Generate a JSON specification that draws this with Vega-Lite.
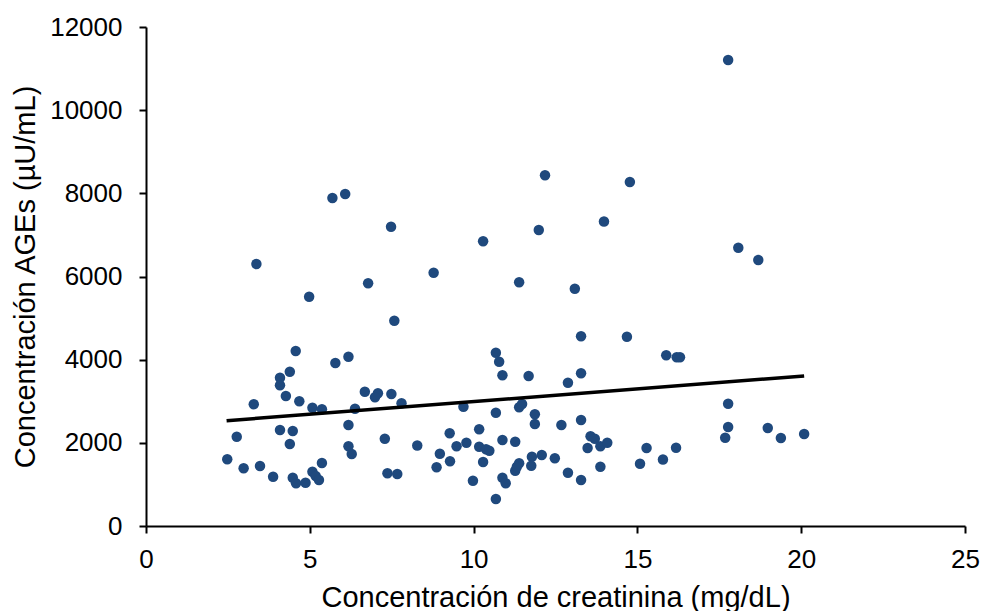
{
  "$schema": "https://vega.github.io/schema/vega-lite/v6.json",
  "width": 819,
  "height": 499,
  "autosize": {"type": "none"},
  "padding": {"left": 146, "top": 27, "right": 17, "bottom": 85},
  "background": "white",
  "config": {
    "view": {"stroke": null},
    "font": "Liberation Sans",
    "axis": {
      "grid": false,
      "domainColor": "black",
      "domainWidth": 2,
      "tickColor": "black",
      "tickWidth": 2,
      "tickSize": 7,
      "labelFont": "Liberation Sans",
      "labelFontSize": 26,
      "labelColor": "black",
      "titleFont": "Liberation Sans",
      "titleFontSize": 29,
      "titleFontWeight": "normal",
      "titleColor": "black"
    }
  },
  "datasets": {
    "muestras": [
      {"creatinina": 4.57, "ages": 4210}, {"creatinina": 6.18, "ages": 4072}, {"creatinina": 5.78, "ages": 3920},
      {"creatinina": 4.39, "ages": 3711}, {"creatinina": 4.09, "ages": 3567}, {"creatinina": 4.09, "ages": 3384},
      {"creatinina": 6.68, "ages": 3230}, {"creatinina": 7.08, "ages": 3191}, {"creatinina": 6.99, "ages": 3095},
      {"creatinina": 7.49, "ages": 3175}, {"creatinina": 4.27, "ages": 3127}, {"creatinina": 3.29, "ages": 2927},
      {"creatinina": 4.68, "ages": 2999}, {"creatinina": 5.08, "ages": 2845}, {"creatinina": 5.37, "ages": 2807},
      {"creatinina": 6.38, "ages": 2821}, {"creatinina": 7.80, "ages": 2951}, {"creatinina": 6.18, "ages": 2429},
      {"creatinina": 4.09, "ages": 2309}, {"creatinina": 4.48, "ages": 2285}, {"creatinina": 2.77, "ages": 2148},
      {"creatinina": 7.29, "ages": 2100}, {"creatinina": 4.39, "ages": 1972}, {"creatinina": 6.18, "ages": 1917},
      {"creatinina": 6.28, "ages": 1732}, {"creatinina": 8.28, "ages": 1936}, {"creatinina": 2.48, "ages": 1604},
      {"creatinina": 2.98, "ages": 1388}, {"creatinina": 3.48, "ages": 1443}, {"creatinina": 3.88, "ages": 1186},
      {"creatinina": 4.48, "ages": 1162}, {"creatinina": 4.58, "ages": 1027}, {"creatinina": 4.87, "ages": 1041},
      {"creatinina": 5.08, "ages": 1306}, {"creatinina": 5.18, "ages": 1203}, {"creatinina": 5.28, "ages": 1106},
      {"creatinina": 5.37, "ages": 1515}, {"creatinina": 7.37, "ages": 1267}, {"creatinina": 7.67, "ages": 1251},
      {"creatinina": 5.69, "ages": 7888}, {"creatinina": 6.08, "ages": 7985}, {"creatinina": 7.48, "ages": 7198},
      {"creatinina": 3.37, "ages": 6301}, {"creatinina": 6.78, "ages": 5837}, {"creatinina": 4.98, "ages": 5515},
      {"creatinina": 7.58, "ages": 4937}, {"creatinina": 12.18, "ages": 8434}, {"creatinina": 14.77, "ages": 8273},
      {"creatinina": 13.98, "ages": 7323}, {"creatinina": 11.99, "ages": 7119}, {"creatinina": 10.29, "ages": 6847},
      {"creatinina": 8.78, "ages": 6092}, {"creatinina": 11.39, "ages": 5861}, {"creatinina": 13.09, "ages": 5707},
      {"creatinina": 13.28, "ages": 4565}, {"creatinina": 14.68, "ages": 4550}, {"creatinina": 10.68, "ages": 4168},
      {"creatinina": 10.78, "ages": 3951}, {"creatinina": 10.88, "ages": 3624}, {"creatinina": 11.68, "ages": 3608},
      {"creatinina": 12.88, "ages": 3446}, {"creatinina": 13.28, "ages": 3672}, {"creatinina": 15.88, "ages": 4105},
      {"creatinina": 16.20, "ages": 4057}, {"creatinina": 16.30, "ages": 4057}, {"creatinina": 9.69, "ages": 2869},
      {"creatinina": 10.68, "ages": 2725}, {"creatinina": 11.39, "ages": 2855}, {"creatinina": 11.48, "ages": 2934},
      {"creatinina": 11.87, "ages": 2686}, {"creatinina": 11.87, "ages": 2453}, {"creatinina": 12.68, "ages": 2429},
      {"creatinina": 13.28, "ages": 2549}, {"creatinina": 9.27, "ages": 2229}, {"creatinina": 10.17, "ages": 2326},
      {"creatinina": 9.48, "ages": 1917}, {"creatinina": 9.78, "ages": 2003}, {"creatinina": 10.17, "ages": 1907},
      {"creatinina": 10.38, "ages": 1845}, {"creatinina": 10.48, "ages": 1811}, {"creatinina": 10.88, "ages": 2068},
      {"creatinina": 11.27, "ages": 2027}, {"creatinina": 8.97, "ages": 1739}, {"creatinina": 8.87, "ages": 1412},
      {"creatinina": 9.28, "ages": 1556}, {"creatinina": 10.29, "ages": 1539}, {"creatinina": 9.98, "ages": 1089},
      {"creatinina": 10.88, "ages": 1162}, {"creatinina": 10.98, "ages": 1027}, {"creatinina": 10.68, "ages": 649},
      {"creatinina": 11.39, "ages": 1508}, {"creatinina": 11.27, "ages": 1330}, {"creatinina": 11.32, "ages": 1426},
      {"creatinina": 11.78, "ages": 1667}, {"creatinina": 12.08, "ages": 1708}, {"creatinina": 11.76, "ages": 1450},
      {"creatinina": 12.48, "ages": 1628}, {"creatinina": 12.88, "ages": 1282}, {"creatinina": 13.28, "ages": 1106},
      {"creatinina": 13.57, "ages": 2157}, {"creatinina": 13.70, "ages": 2100}, {"creatinina": 13.48, "ages": 1876},
      {"creatinina": 13.87, "ages": 1917}, {"creatinina": 14.08, "ages": 2003}, {"creatinina": 13.87, "ages": 1426},
      {"creatinina": 15.08, "ages": 1498}, {"creatinina": 15.28, "ages": 1876}, {"creatinina": 15.78, "ages": 1599},
      {"creatinina": 16.18, "ages": 1883}, {"creatinina": 17.77, "ages": 2941}, {"creatinina": 17.77, "ages": 2381},
      {"creatinina": 17.68, "ages": 2124}, {"creatinina": 18.98, "ages": 2357}, {"creatinina": 19.38, "ages": 2116},
      {"creatinina": 20.09, "ages": 2213}, {"creatinina": 17.77, "ages": 11207}, {"creatinina": 18.08, "ages": 6693},
      {"creatinina": 18.69, "ages": 6397}
    ],
    "tendencia": [
      {"creatinina": 2.46, "ages": 2532},
      {"creatinina": 20.09, "ages": 3607}
    ]
  },
  "layer": [
    {
      "data": {"name": "muestras"},
      "mark": {"type": "circle", "size": 110, "color": "#1F497D", "opacity": 1},
      "encoding": {
        "x": {
          "field": "creatinina",
          "type": "quantitative",
          "scale": {"domain": [0, 25], "nice": false, "zero": false},
          "axis": {
            "title": "Concentración de creatinina (mg/dL)",
            "values": [0, 5, 10, 15, 20, 25],
            "labelPadding": 13,
            "labelFlush": false,
            "titleBaseline": "alphabetic",
            "titleY": 80
          }
        },
        "y": {
          "field": "ages",
          "type": "quantitative",
          "scale": {"domain": [0, 12000], "nice": false},
          "axis": {
            "title": "Concentración AGEs (µU/mL)",
            "values": [0, 2000, 4000, 6000, 8000, 10000, 12000],
            "format": "d",
            "labelPadding": 17,
            "labelFlush": false,
            "titleBaseline": "alphabetic",
            "titleX": -112
          }
        }
      }
    },
    {
      "data": {"name": "tendencia"},
      "mark": {"type": "line", "color": "black", "strokeWidth": 3.5},
      "encoding": {
        "x": {"field": "creatinina", "type": "quantitative"},
        "y": {"field": "ages", "type": "quantitative"}
      }
    }
  ]
}
